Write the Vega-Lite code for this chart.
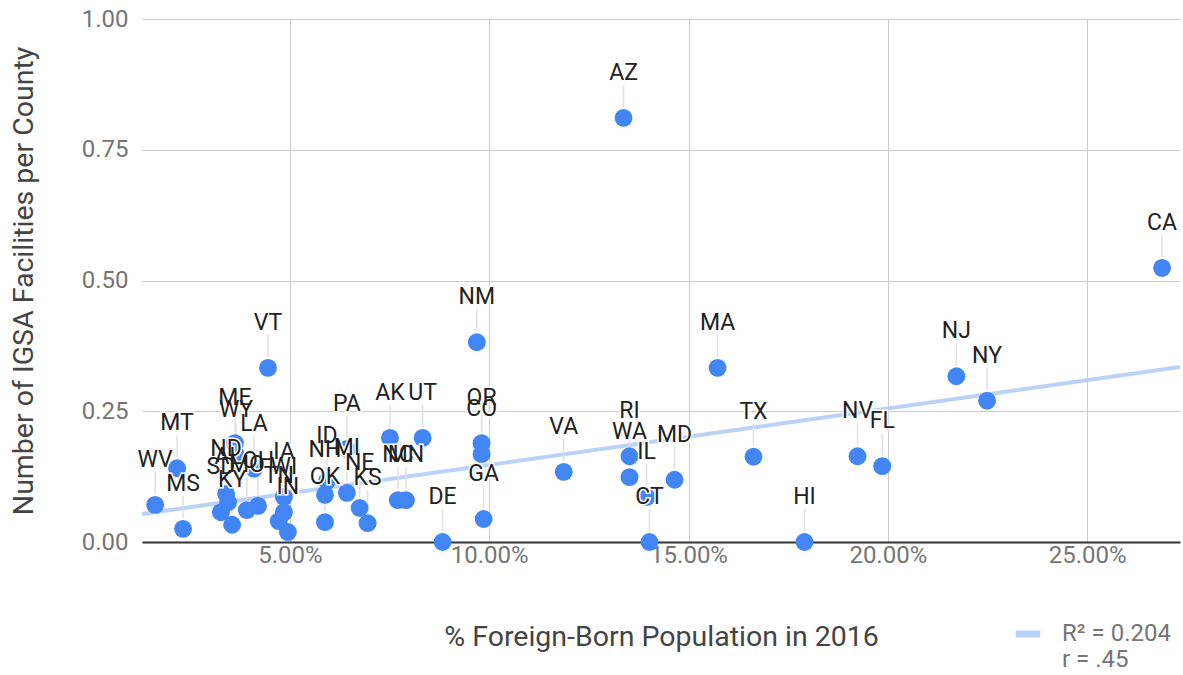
{
  "$schema": "https://vega.github.io/schema/vega-lite/v6.json",
  "width": 1038,
  "height": 523,
  "autosize": {"type": "none"},
  "padding": {"left": 142, "top": 19, "right": 3, "bottom": 133},
  "background": "white",
  "config": {
    "view": {"stroke": null},
    "font": "Roboto",
    "axis": {"labelFont": "Roboto", "titleFont": "Roboto", "gridColor": "#cccccc", "gridWidth": 1, "labelColor": "#757575", "labelFontSize": 24, "titleFontSize": 28.5, "titleColor": "#444444", "titleFontWeight": "normal", "ticks": false}
  },
  "datasets": {
    "states": [
      {"state": "ME", "fb": 3.62, "igsa": 0.189},
      {"state": "AL", "fb": 3.45, "igsa": 0.076},
      {"state": "MO", "fb": 3.92, "igsa": 0.061},
      {"state": "TN", "fb": 4.72, "igsa": 0.040},
      {"state": "ID", "fb": 5.93, "igsa": 0.117},
      {"state": "PA", "fb": 6.43, "igsa": 0.178},
      {"state": "MN", "fb": 7.91, "igsa": 0.080},
      {"state": "CO", "fb": 9.81, "igsa": 0.168},
      {"state": "AZ", "fb": 13.37, "igsa": 0.811},
      {"state": "CA", "fb": 26.88, "igsa": 0.524},
      {"state": "NM", "fb": 9.69, "igsa": 0.382},
      {"state": "VT", "fb": 4.45, "igsa": 0.333},
      {"state": "MA", "fb": 15.73, "igsa": 0.333},
      {"state": "NJ", "fb": 21.72, "igsa": 0.317},
      {"state": "NY", "fb": 22.49, "igsa": 0.270},
      {"state": "AK", "fb": 7.51, "igsa": 0.199},
      {"state": "UT", "fb": 8.33, "igsa": 0.199},
      {"state": "OR", "fb": 9.81, "igsa": 0.189},
      {"state": "GA", "fb": 9.86, "igsa": 0.044},
      {"state": "VA", "fb": 11.87, "igsa": 0.134},
      {"state": "RI", "fb": 13.52, "igsa": 0.164},
      {"state": "WA", "fb": 13.52, "igsa": 0.124},
      {"state": "IL", "fb": 13.95, "igsa": 0.086},
      {"state": "CT", "fb": 14.02, "igsa": 0.0},
      {"state": "MD", "fb": 14.65, "igsa": 0.119},
      {"state": "TX", "fb": 16.63, "igsa": 0.163},
      {"state": "HI", "fb": 17.91, "igsa": 0.0},
      {"state": "NV", "fb": 19.24, "igsa": 0.164},
      {"state": "FL", "fb": 19.86, "igsa": 0.145},
      {"state": "DE", "fb": 8.83, "igsa": 0.0},
      {"state": "MT", "fb": 2.17, "igsa": 0.141},
      {"state": "WV", "fb": 1.62, "igsa": 0.071},
      {"state": "MS", "fb": 2.32, "igsa": 0.025},
      {"state": "WY", "fb": 3.65, "igsa": 0.166},
      {"state": "LA", "fb": 4.10, "igsa": 0.140},
      {"state": "ND", "fb": 3.40, "igsa": 0.092},
      {"state": "SD", "fb": 3.27, "igsa": 0.057},
      {"state": "KY", "fb": 3.55, "igsa": 0.033},
      {"state": "OH", "fb": 4.20, "igsa": 0.069},
      {"state": "IA", "fb": 4.85, "igsa": 0.086},
      {"state": "WI", "fb": 4.85, "igsa": 0.057},
      {"state": "IN", "fb": 4.95, "igsa": 0.019},
      {"state": "NH", "fb": 5.88, "igsa": 0.090},
      {"state": "MI", "fb": 6.43, "igsa": 0.094},
      {"state": "OK", "fb": 5.88, "igsa": 0.038},
      {"state": "NE", "fb": 6.75, "igsa": 0.065},
      {"state": "KS", "fb": 6.95, "igsa": 0.036},
      {"state": "NC", "fb": 7.71, "igsa": 0.080}
    ],
    "trend": [
      {"fb": 1.29, "igsa": 0.0535, "series": "R² = 0.204"},
      {"fb": 27.33, "igsa": 0.3346, "series": "R² = 0.204"}
    ]
  },
  "encoding": {
    "x": {
      "field": "fb", "type": "quantitative",
      "scale": {"domain": [1.29, 27.33], "nice": false, "zero": false},
      "axis": {"values": [5, 10, 15, 20, 25], "labelExpr": "format(datum.value, '.2f') + '%'", "title": "% Foreign-Born Population in 2016", "titlePadding": 55, "labelPadding": 1, "domainColor": "#333333", "domainWidth": 2, "grid": true}
    },
    "y": {
      "field": "igsa", "type": "quantitative",
      "scale": {"domain": [0, 1], "nice": false},
      "axis": {"values": [0, 0.25, 0.5, 0.75, 1], "format": ".2f", "title": "Number of IGSA Facilities per County", "titlePadding": 43, "labelPadding": 14, "domain": false, "grid": true}
    }
  },
  "layer": [
    {
      "data": {"name": "trend"},
      "mark": {"type": "line", "strokeWidth": 4, "opacity": 0.9},
      "encoding": {
        "color": {
          "field": "series", "type": "nominal",
          "scale": {"range": ["#b3cdf7"]},
          "legend": {"title": null, "orient": "none", "legendX": 870, "legendY": 599, "symbolType": "stroke", "symbolStrokeWidth": 7, "symbolSize": 600, "labelOffset": 18, "labelFont": "Roboto", "labelFontSize": 24, "labelColor": "#757575", "labelExpr": "['R² = 0.204', 'r = .45']", "labelLimit": 300}
        }
      }
    },
    {
      "data": {"name": "states"},
      "mark": {"type": "rule", "color": "#e0e0e0", "strokeWidth": 1.5, "yOffset": -33, "y2Offset": -11},
      "encoding": {"y2": {"field": "igsa"}}
    },
    {
      "data": {"name": "states"},
      "mark": {"type": "circle", "size": 320, "color": "#4285f4", "opacity": 1}
    },
    {
      "data": {"name": "states"},
      "mark": {"type": "text", "dy": -45, "baseline": "middle", "align": "center", "font": "Roboto", "fontSize": 23, "fill": "white", "stroke": "white", "strokeWidth": 3},
      "encoding": {"text": {"field": "state"}}
    },
    {
      "data": {"name": "states"},
      "mark": {"type": "text", "dy": -45, "baseline": "middle", "align": "center", "font": "Roboto", "fontSize": 23, "color": "#212121"},
      "encoding": {"text": {"field": "state"}}
    }
  ]
}
